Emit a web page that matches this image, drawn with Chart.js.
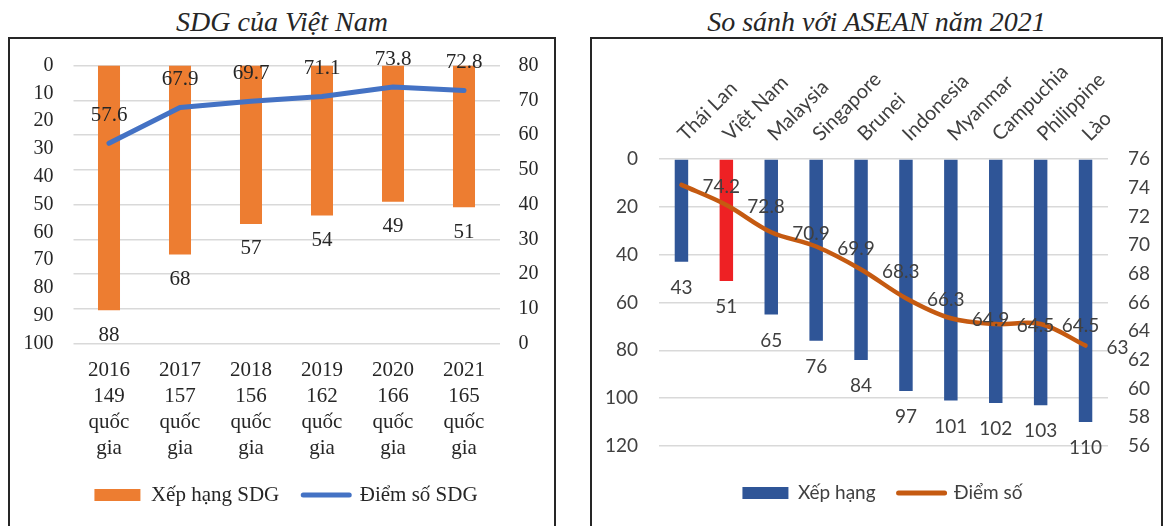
<!DOCTYPE html>
<html>
<head>
<meta charset="utf-8">
<script src="https://cdn.jsdelivr.net/npm/chart.js@4.4.1/dist/chart.umd.min.js"></script>
<style>
  html, body { margin: 0; padding: 0; background: #fff; width: 1164px; height: 526px; overflow: hidden; }
  .title { position: absolute; top: 0; height: 44px; line-height: 44px; text-align: center;
           font-family: 'Liberation Serif', 'Times New Roman', serif; font-style: italic; font-size: 28px; color: #262626; }
  .frame { position: absolute; top: 37px; height: 560px; border: 2px solid #262626; box-sizing: border-box; }
  canvas { position: absolute; }
</style>
</head>
<body>
<div class="title" style="left:8px;width:548px">SDG của Việt Nam</div>
<div class="frame" style="left:8px;width:548px"></div>
<canvas id="sdgChart" width="544" height="487" style="left:10px;top:39px"></canvas>

<div class="title" style="left:590px;width:573px">So sánh với ASEAN năm 2021</div>
<div class="frame" style="left:590px;width:573px"></div>
<canvas id="aseanChart" width="569" height="487" style="left:592px;top:39px"></canvas>

<script>
// Vietnam SDG ranking and score by year
const years = ['2016', '2017', '2018', '2019', '2020', '2021'];
const countryCounts = [149, 157, 156, 162, 166, 165];
const sdgRank = [88, 68, 57, 54, 49, 51];
const sdgScore = [57.6, 67.9, 69.7, 71.1, 73.8, 72.8];
const rankTicks = [0, 100, 10];   // min, max, step (reversed axis)
const scoreTicks = [0, 80, 10];

// ASEAN comparison, 2021
const aseanCountries = ['Thái Lan', 'Việt Nam', 'Malaysia', 'Singapore', 'Brunei', 'Indonesia', 'Myanmar', 'Campuchia', 'Philippine', 'Lào'];
const aseanRank = [43, 51, 65, 76, 84, 97, 101, 102, 103, 110];
const aseanScore = [74.2, 72.8, 70.9, 69.9, 68.3, 66.3, 64.9, 64.5, 64.5, 63];
const aseanRankTicks = [0, 120, 20];
const aseanScoreTicks = [56, 76, 2];
const highlightCountry = 'Việt Nam';

const SERIF = "'Liberation Serif', 'Times New Roman', serif";
const SANS = "Lato, 'Open Sans', sans-serif";

// Draws each dataset's values next to its elements
function valueLabels(configs) {
  return {
    id: 'valueLabels',
    afterDatasetsDraw(chart) {
      const ctx = chart.ctx;
      configs.forEach(cfg => {
        const meta = chart.getDatasetMeta(cfg.dataset);
        const values = chart.data.datasets[cfg.dataset].data;
        ctx.save();
        ctx.font = cfg.font;
        ctx.fillStyle = cfg.color;
        ctx.textAlign = cfg.align;
        ctx.textBaseline = 'middle';
        meta.data.forEach((el, i) => {
          ctx.fillText(String(values[i]), el.x + cfg.dx, el.y + cfg.dy);
        });
        ctx.restore();
      });
    }
  };
}

// Fixed axis thickness; the layout padding alone decides the plot edges
function fixedWidth(size) {
  return scale => { scale.width = size; scale.paddingTop = 0; scale.paddingBottom = 0; };
}
function fixedHeight(size) {
  return scale => { scale.height = size; scale.paddingLeft = 0; scale.paddingRight = 0; };
}

// ---------- Left chart: SDG của Việt Nam ----------
const sdgLabels = years.map((y, i) => [y, String(countryCounts[i]), 'quốc', 'gia']);

new Chart(document.getElementById('sdgChart'), {
  data: {
    labels: sdgLabels,
    datasets: [
      { type: 'bar', label: 'Xếp hạng SDG', data: sdgRank, yAxisID: 'y',
        backgroundColor: '#ED7D31', barPercentage: 0.31, categoryPercentage: 1, order: 2 },
      { type: 'line', label: 'Điểm số SDG', data: sdgScore, yAxisID: 'y1',
        borderColor: '#4472C4', borderWidth: 5, pointRadius: 0, tension: 0,
        borderCapStyle: 'round', borderJoinStyle: 'round', order: 1 }
    ]
  },
  options: {
    responsive: false,
    animation: false,
    layout: { padding: { top: 26.5, bottom: 10.5, left: 8, right: 0 } },
    plugins: {
      tooltip: { enabled: false },
      legend: {
        position: 'bottom',
        labels: {
          usePointStyle: true, pointStyleWidth: 46, boxHeight: 12, padding: 24,
          color: '#262626', font: { family: SERIF, size: 21 },
          generateLabels: () => [
            { text: 'Xếp hạng SDG', pointStyle: 'rect', fillStyle: '#ED7D31', strokeStyle: '#ED7D31', lineWidth: 0, datasetIndex: 0, fontColor: '#262626' },
            { text: 'Điểm số SDG', pointStyle: 'line', fillStyle: '#4472C4', strokeStyle: '#4472C4', lineWidth: 5, lineCap: 'round', datasetIndex: 1, fontColor: '#262626' }
          ]
        }
      }
    },
    scales: {
      x: {
        grid: { display: false, drawTicks: false }, border: { display: false },
        ticks: { color: '#262626', font: { family: SERIF, size: 21, lineHeight: 1.24 }, padding: 14, maxRotation: 0, autoSkip: false },
        afterFit: fixedHeight(117)
      },
      y: {
        position: 'left', reverse: true, min: rankTicks[0], max: rankTicks[1],
        grid: { display: false, drawTicks: false }, border: { display: false },
        ticks: { stepSize: rankTicks[2], color: '#262626', font: { family: SERIF, size: 20 }, padding: 20 },
        afterFit: fixedWidth(55.5)
      },
      y1: {
        position: 'right', min: scoreTicks[0], max: scoreTicks[1],
        grid: { display: true, color: '#D9D9D9', lineWidth: 1.5, drawTicks: false }, border: { display: false },
        ticks: { stepSize: scoreTicks[2], color: '#262626', font: { family: SERIF, size: 20 }, padding: 19 },
        afterFit: fixedWidth(54.5)
      }
    }
  },
  plugins: [valueLabels([
    { dataset: 0, font: `21px ${SERIF}`, color: '#262626', align: 'center', dx: 0, dy: 25 },
    { dataset: 1, font: `21px ${SERIF}`, color: '#262626', align: 'center', dx: 0, dy: -28 }
  ])]
});

// ---------- Right chart: So sánh với ASEAN năm 2021 ----------
const barColors = aseanCountries.map(c => c === highlightCountry ? '#EE2124' : '#2F5597');

new Chart(document.getElementById('aseanChart'), {
  data: {
    labels: aseanCountries,
    datasets: [
      { type: 'bar', label: 'Xếp hạng', data: aseanRank, yAxisID: 'y', xAxisID: 'x',
        backgroundColor: barColors, barPercentage: 0.3, categoryPercentage: 1, order: 2 },
      { type: 'line', label: 'Điểm số', data: aseanScore, yAxisID: 'y1', xAxisID: 'x',
        borderColor: '#C55A11', borderWidth: 4.5, pointRadius: 0, tension: 0.35,
        borderCapStyle: 'round', borderJoinStyle: 'round', order: 1 }
    ]
  },
  options: {
    responsive: false,
    animation: false,
    layout: { padding: { top: 0, bottom: 13.5, left: 12, right: 0 } },
    plugins: {
      tooltip: { enabled: false },
      legend: {
        position: 'bottom',
        labels: {
          usePointStyle: true, pointStyleWidth: 46, boxHeight: 12, padding: 23,
          color: '#404040', font: { family: SANS, size: 19 },
          generateLabels: () => [
            { text: 'Xếp hạng', pointStyle: 'rect', fillStyle: '#2F5597', strokeStyle: '#2F5597', lineWidth: 0, datasetIndex: 0, fontColor: '#404040' },
            { text: 'Điểm số', pointStyle: 'line', fillStyle: '#C55A11', strokeStyle: '#C55A11', lineWidth: 5, lineCap: 'round', datasetIndex: 1, fontColor: '#404040' }
          ]
        }
      }
    },
    scales: {
      x: {
        position: 'top',
        grid: { display: false, drawTicks: false }, border: { display: false },
        ticks: { color: '#404040', font: { family: SANS, size: 20 }, padding: 13, labelOffset: 17,
                 minRotation: 45, maxRotation: 45, autoSkip: false },
        afterFit: fixedHeight(120)
      },
      xGap: {
        type: 'category', position: 'bottom',
        grid: { display: false, drawTicks: false }, border: { display: false },
        ticks: { display: false },
        afterFit: fixedHeight(14.5)
      },
      y: {
        position: 'left', reverse: true, min: aseanRankTicks[0], max: aseanRankTicks[1],
        grid: { display: true, color: '#D9D9D9', lineWidth: 1.5, drawTicks: false }, border: { display: false },
        ticks: { stepSize: aseanRankTicks[2], color: '#404040', font: { family: SANS, size: 19 }, padding: 21 },
        afterFit: fixedWidth(55)
      },
      y1: {
        position: 'right', min: aseanScoreTicks[0], max: aseanScoreTicks[1],
        grid: { display: false, drawTicks: false }, border: { display: false },
        ticks: { stepSize: aseanScoreTicks[2], color: '#404040', font: { family: SANS, size: 19 }, padding: 20 },
        afterFit: fixedWidth(53)
      }
    }
  },
  plugins: [valueLabels([
    { dataset: 0, font: `19px ${SANS}`, color: '#404040', align: 'center', dx: 0, dy: 26 },
    { dataset: 1, font: `19px ${SANS}`, color: '#404040', align: 'left', dx: 21, dy: 2 }
  ])]
});
</script>
</body>
</html>
